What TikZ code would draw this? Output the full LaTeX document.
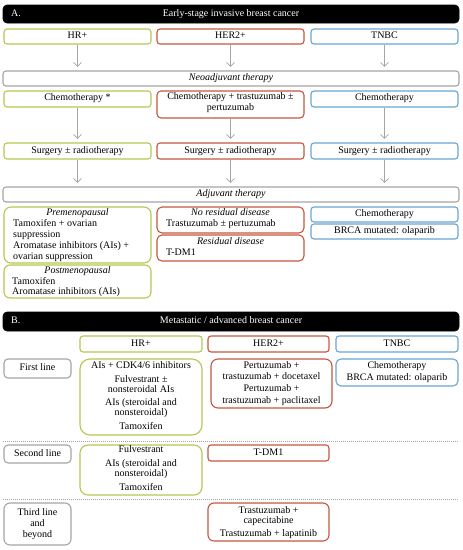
\documentclass[tikz,border=0pt]{standalone}
\usepackage{fontspec}
\setmainfont{Liberation Serif}
\usetikzlibrary{fit,arrows.meta}
\definecolor{cgreen}{RGB}{178,200,80}
\definecolor{cred}{RGB}{196,86,62}
\definecolor{cblue}{RGB}{104,164,208}
\definecolor{cgray}{RGB}{165,165,165}
\newcommand\mkbox[5]{\node[#1, rounded corners=#5, fit={#3 #4}] (#2) {};}
\tikzset{
  bx/.style={draw, line width=1.1pt, inner sep=0pt},
  gbox/.style={bx, draw=cgreen},
  rbox/.style={bx, draw=cred},
  bbox/.style={bx, draw=cblue},
  kbox/.style={bx, draw=cgray},
  hdr/.style={fill=black, draw=black, line width=0.6pt, inner sep=0pt},
  txt/.style={inner sep=0pt, anchor=mid, font=\fontsize{10}{11}\selectfont},
  ltxt/.style={txt, anchor=mid west},
  itxt/.style={txt, font=\fontsize{10}{11}\selectfont\itshape},
  wtxt/.style={txt, text=white},
  arr/.style={draw=cgray, line width=0.7pt, -{Straight Barb[length=4pt,width=8pt]}, shorten >=3.5pt},
  dotl/.style={draw=cgray, line width=0.6pt, dash pattern=on 1pt off 1pt}
}
\begin{document}
\begin{tikzpicture}[x=1pt,y=-1pt]
\useasboundingbox (0,0) rectangle (463,550);
% ---------- Section A ----------
\mkbox{hdr}{hdrA}{(3,5)}{(459,23)}{4pt}
\node[wtxt, anchor=mid west] (hdrAl) at (11,14) {A.};
\node[wtxt] (hdrAt) at (231,14) {Early-stage invasive breast cancer};
\mkbox{gbox}{hrA}{(4,29)}{(151,44)}{3pt}
\mkbox{rbox}{herA}{(157,29)}{(304,44)}{3pt}
\mkbox{bbox}{tnA}{(311,29)}{(458,44)}{3pt}
\node[txt] (thrA) at (hrA.center) {HR+};
\node[txt] (therA) at (herA.center) {HER2+};
\node[txt] (ttnA) at (tnA.center) {TNBC};
\mkbox{kbox}{neo}{(3,71)}{(459,86)}{3pt}
\node[itxt] (tneo) at (neo.center) {Neoadjuvant therapy};
\draw[arr] (hrA.south) -- (hrA.south |- neo.north);
\draw[arr] (herA.south) -- (herA.south |- neo.north);
\draw[arr] (tnA.south) -- (tnA.south |- neo.north);
\mkbox{gbox}{chHR}{(4,91)}{(151,107)}{3pt}
\mkbox{rbox}{chHER}{(157,91)}{(304,118)}{4pt}
\mkbox{bbox}{chTN}{(311,91)}{(458,107)}{3pt}
\node[txt] (tchHR) at (77.5,98) {Chemotherapy *};
\node[txt] (tchHERa) at (230.5,97) {Chemotherapy + trastuzumab ±};
\node[txt] (tchHERb) at (230.5,108) {pertuzumab};
\node[txt] (tchTN) at (384.5,98) {Chemotherapy};
\mkbox{gbox}{sgHR}{(4,143)}{(151,159)}{3pt}
\mkbox{rbox}{sgHER}{(157,143)}{(304,159)}{3pt}
\mkbox{bbox}{sgTN}{(311,143)}{(458,159)}{3pt}
\node[txt] (tsgHR) at (sgHR.center) {Surgery ± radiotherapy};
\node[txt] (tsgHER) at (sgHER.center) {Surgery ± radiotherapy};
\node[txt] (tsgTN) at (sgTN.center) {Surgery ± radiotherapy};
\draw[arr] (chHR.south) -- (chHR.south |- sgHR.north);
\draw[arr] (chHER.south) -- (chHER.south |- sgHER.north);
\draw[arr] (chTN.south) -- (chTN.south |- sgTN.north);
\mkbox{kbox}{adj}{(3,187)}{(459,202)}{3pt}
\node[itxt] (tadj) at (adj.center) {Adjuvant therapy};
\draw[arr] (sgHR.south) -- (sgHR.south |- adj.north);
\draw[arr] (sgHER.south) -- (sgHER.south |- adj.north);
\draw[arr] (sgTN.south) -- (sgTN.south |- adj.north);
% adjuvant boxes
\mkbox{gbox}{pre}{(4,207)}{(151,263)}{7pt}
\node[itxt] (tpre) at (77.5,213) {Premenopausal};
\node[ltxt] (tpre1) at (13,224) {Tamoxifen + ovarian};
\node[ltxt] (tpre2) at (13,235) {suppression};
\node[ltxt] (tpre3) at (13,246) {Aromatase inhibitors (AIs) +};
\node[ltxt] (tpre4) at (13,257) {ovarian suppression};
\mkbox{gbox}{post}{(4,265)}{(151,298)}{6pt}
\node[itxt] (tpost) at (77.5,271) {Postmenopausal};
\node[ltxt] (tpost1) at (12,282) {Tamoxifen};
\node[ltxt] (tpost2) at (12,292) {Aromatase inhibitors (AIs)};
\mkbox{rbox}{nores}{(157,207)}{(304,233)}{5pt}
\node[itxt] (tnores) at (230.5,213) {No residual disease};
\node[ltxt] (tnores1) at (166,224) {Trastuzumab ± pertuzumab};
\mkbox{rbox}{res}{(157,235)}{(304,261)}{5pt}
\node[itxt] (tres) at (230.5,242) {Residual disease};
\node[ltxt] (tres1) at (166,253) {T-DM1};
\mkbox{bbox}{tnChem}{(311,207)}{(458,222)}{3pt}
\node[txt] (ttnChem) at (tnChem.center) {Chemotherapy};
\mkbox{bbox}{tnBRCA}{(311,224)}{(458,239)}{3pt}
\node[txt] (ttnBRCA) at (tnBRCA.center) {BRCA mutated: olaparib};
% ---------- Section B ----------
\mkbox{hdr}{hdrB}{(3,312)}{(459,331)}{4pt}
\node[wtxt, anchor=mid west] (hdrBl) at (11,321.5) {B.};
\node[wtxt] (hdrBt) at (231,321.5) {Metastatic / advanced breast cancer};
\mkbox{gbox}{hrB}{(80,336)}{(202,352)}{3pt}
\mkbox{rbox}{herB}{(208,336)}{(329,352)}{3pt}
\mkbox{bbox}{tnB}{(336,336)}{(458,352)}{3pt}
\node[txt] (thrB) at (hrB.center) {HR+};
\node[txt] (therB) at (herB.center) {HER2+};
\node[txt] (ttnB) at (tnB.center) {TNBC};
% first line
\mkbox{kbox}{fl}{(4,359)}{(71,378)}{4pt}
\node[txt] (tfl) at (fl.center) {First line};
\mkbox{gbox}{hr1}{(80,359)}{(202,435)}{10pt}
\node[txt] (thr1a) at (141,366) {AIs + CDK4/6 inhibitors};
\node[txt] (thr1b) at (141,380) {Fulvestrant ±};
\node[txt] (thr1c) at (141,390) {nonsteroidal AIs};
\node[txt] (thr1d) at (141,403) {AIs (steroidal and};
\node[txt] (thr1e) at (141,413) {nonsteroidal)};
\node[txt] (thr1f) at (141,427) {Tamoxifen};
\mkbox{rbox}{her1}{(211,359)}{(332,408)}{7pt}
\node[txt] (ther1a) at (271.5,366) {Pertuzumab +};
\node[txt] (ther1b) at (271.5,377) {trastuzumab + docetaxel};
\node[txt] (ther1c) at (271.5,389) {Pertuzumab +};
\node[txt] (ther1d) at (271.5,401) {trastuzumab + paclitaxel};
\mkbox{bbox}{tn1}{(336,359)}{(458,386)}{5pt}
\node[txt] (ttn1a) at (397,366) {Chemotherapy};
\node[txt] (ttn1b) at (397,378) {BRCA mutated: olaparib};
\coordinate (d1l) at (3,441);
\coordinate (d1r) at (459,441);
\draw[dotl] (d1l) -- (d1r);
% second line
\mkbox{kbox}{sl}{(4,445)}{(71,463)}{4pt}
\node[txt] (tsl) at (sl.center) {Second line};
\mkbox{gbox}{hr2}{(80,445)}{(202,495)}{8pt}
\node[txt] (thr2a) at (141,450) {Fulvestrant};
\node[txt] (thr2b) at (141,464) {AIs (steroidal and};
\node[txt] (thr2c) at (141,474) {nonsteroidal)};
\node[txt] (thr2d) at (141,488) {Tamoxifen};
\mkbox{rbox}{her2}{(208,445)}{(329,461)}{3pt}
\node[txt] (ther2) at (her2.center) {T-DM1};
\coordinate (d2l) at (3,499);
\coordinate (d2r) at (459,499);
\draw[dotl] (d2l) -- (d2r);
% third line
\mkbox{kbox}{tl}{(4,503)}{(71,545)}{6pt}
\node[txt] (ttla) at (37.5,513) {Third line};
\node[txt] (ttlb) at (37.5,524) {and};
\node[txt] (ttlc) at (37.5,535) {beyond};
\mkbox{rbox}{her3}{(208,503)}{(329,541)}{6pt}
\node[txt] (ther3a) at (268.5,511) {Trastuzumab +};
\node[txt] (ther3b) at (268.5,521) {capecitabine};
\node[txt] (ther3c) at (268.5,534) {Trastuzumab + lapatinib};
\end{tikzpicture}
\end{document}
